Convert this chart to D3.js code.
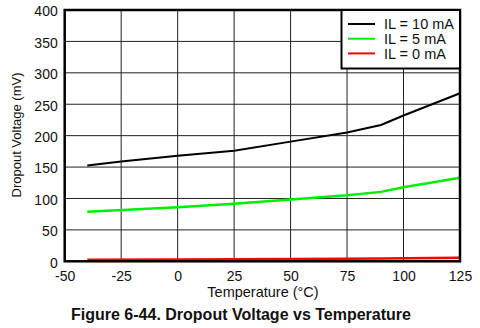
<!DOCTYPE html>
<html><head><meta charset="utf-8">
<script src="https://cdn.jsdelivr.net/npm/d3@7"></script>
<style>
html,body{margin:0;padding:0;background:#fff;}
svg{display:block;font-family:"Liberation Sans",Arial,sans-serif;}
</style></head>
<body>
<svg id="c" width="480" height="328"></svg>
<script>
const xTicks = [-50, -25, 0, 25, 50, 75, 100, 125];
const yTicks = [0, 50, 100, 150, 200, 250, 300, 350, 400];

const temps10 = [-40, -25, 0, 25, 50, 75, 90, 100, 125];
const vals10  = [152.5, 159, 168, 176, 190.5, 205, 217, 232, 267.5];

const temps5 = [-40, 0, 25, 50, 75, 90, 100, 125];
const vals5  = [79, 86, 91.5, 98.5, 105, 110.5, 118, 133];

const temps0 = [-40, 0, 25, 50, 75, 90, 125];
const vals0  = [2.5, 3, 3.3, 3.7, 4.2, 4.6, 5.8];

const seriesNames = ["IL = 10 mA", "IL = 5 mA", "IL = 0 mA"];
const seriesColors = ["#000000", "#00ee00", "#ff0000"];

const series = [
  {name: seriesNames[0], color: seriesColors[0], w: 2, pts: temps10.map((t,i)=>[t, vals10[i]])},
  {name: seriesNames[1], color: seriesColors[1], w: 2.5, pts: temps5.map((t,i)=>[t, vals5[i]])},
  {name: seriesNames[2], color: seriesColors[2], w: 2.5, pts: temps0.map((t,i)=>[t, vals0[i]])}
];

const svg = d3.select("#c");
const L = 64.7, R = 460, T = 10, B = 261.3;
const x = d3.scaleLinear().domain([-50, 125]).range([L, R]);
const y = d3.scaleLinear().domain([0, 400]).range([B, T]);

// grid
const g = svg.append("g");
g.selectAll(".vg").data(xTicks).join("line")
  .attr("x1", d=>x(d)).attr("x2", d=>x(d)).attr("y1", T).attr("y2", B)
  .attr("stroke", "#222").attr("stroke-width", 1);
g.selectAll(".hg").data(yTicks).join("line")
  .attr("y1", d=>y(d)).attr("y2", d=>y(d)).attr("x1", L).attr("x2", R)
  .attr("stroke", "#222").attr("stroke-width", 1);

// axes labels via d3 axes
const xAxis = svg.append("g").attr("transform", `translate(0,${B})`)
  .call(d3.axisBottom(x).tickValues(xTicks).tickSize(0).tickPadding(10).tickFormat(d=>String(d)));
const yAxis = svg.append("g").attr("transform", `translate(${L},0)`)
  .call(d3.axisLeft(y).tickValues(yTicks).tickSize(0).tickPadding(7).tickFormat(d=>String(d)));
[xAxis, yAxis].forEach(a=>{
  a.select(".domain").remove();
  a.selectAll("text").attr("font-family", '"Liberation Sans",Arial,sans-serif')
    .attr("font-size", "14px").attr("fill", "#111");
});
yAxis.selectAll("text").attr("dy", "0.42em");

// lines
const line = d3.line().x(d=>x(d[0])).y(d=>y(d[1]));
svg.append("g").selectAll("path").data(series.slice().reverse()).join("path")
  .attr("d", d=>line(d.pts)).attr("fill", "none")
  .attr("stroke", d=>d.color).attr("stroke-width", d=>d.w);

// frame
svg.append("rect").attr("x", L).attr("y", T).attr("width", R-L).attr("height", B-T)
  .attr("fill", "none").attr("stroke", "#000").attr("stroke-width", 2.5);

// legend
const lg = svg.append("g");
lg.append("rect").attr("x", 341.5).attr("y", T).attr("width", R-341.5).attr("height", 58.5)
  .attr("fill", "#fff").attr("stroke", "#000").attr("stroke-width", 2);
series.forEach((s,i)=>{
  const yy = 24 + i*14.7;
  lg.append("line").attr("x1", 348).attr("x2", 375).attr("y1", yy).attr("y2", yy)
    .attr("stroke", s.color).attr("stroke-width", 2);
  lg.append("text").attr("x", 384).attr("y", yy).attr("dy", "0.36em")
    .attr("font-size", "14.5px").attr("fill", "#111").text(s.name);
});

// axis titles
svg.append("text").attr("x", 263).attr("y", 297).attr("text-anchor", "middle")
  .attr("font-size", "14.5px").attr("fill", "#111").text("Temperature (°C)");
svg.append("text").attr("transform", "translate(21,135) rotate(-90)").attr("text-anchor", "middle")
  .attr("font-size", "13px").attr("fill", "#111").text("Dropout Voltage (mV)");

// figure caption
svg.append("text").attr("x", 241).attr("y", 320).attr("text-anchor", "middle")
  .attr("font-size", "16px").attr("font-weight", "bold").attr("fill", "#111")
  .text("Figure 6-44. Dropout Voltage vs Temperature");
</script>
</body></html>
